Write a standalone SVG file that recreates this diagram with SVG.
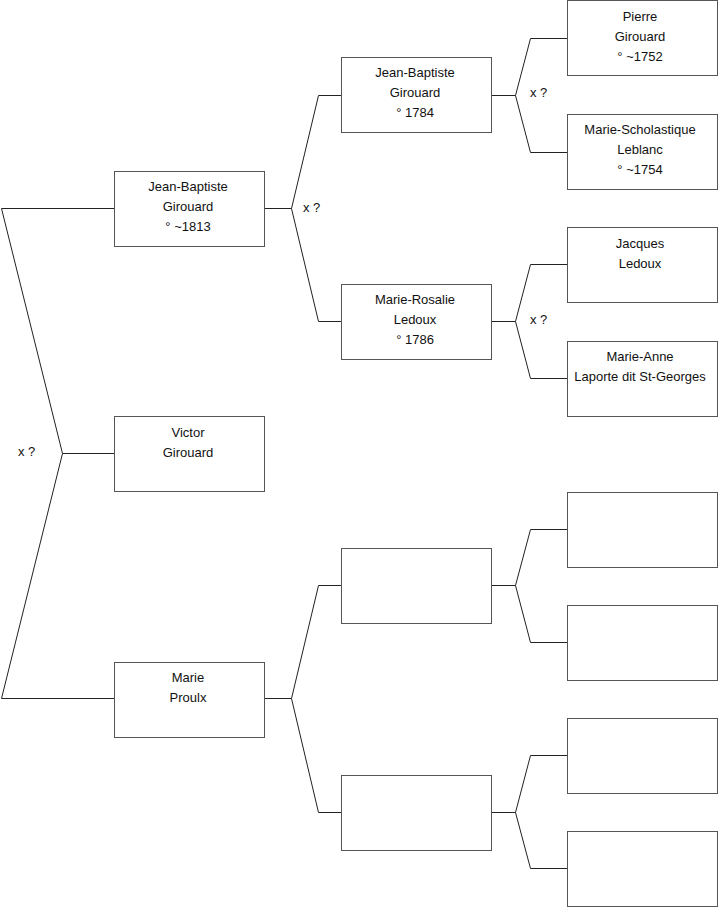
<svg xmlns="http://www.w3.org/2000/svg" width="719" height="908" viewBox="0 0 719 908">
<style>
.box{fill:#fff;stroke:#555;stroke-width:1}
.ln{fill:none;stroke:#222;stroke-width:1}
text{font-family:"Liberation Sans",Arial,sans-serif;font-size:13px;fill:#111;text-anchor:middle}
.x{text-anchor:start}
</style>
<rect width="719" height="908" fill="#fff"/>
<g id="connectors">
<polyline class="ln" points="114,208.5 1.5,208.5 62.5,453.5 1.5,698.5 114,698.5"/>
<line class="ln" x1="62.5" y1="453.5" x2="114" y2="453.5"/>
<polyline class="ln" points="341,95.5 318.5,95.5 291.5,208.5 318.5,321.5 341,321.5"/>
<line class="ln" x1="265" y1="208.5" x2="291.5" y2="208.5"/>
<polyline class="ln" points="341,585.5 318.5,585.5 291.5,698.5 318.5,812.5 341,812.5"/>
<line class="ln" x1="265" y1="698.5" x2="291.5" y2="698.5"/>
<polyline class="ln" points="567,38.5 530.5,38.5 515.5,95.5 530.5,152.5 567,152.5"/>
<line class="ln" x1="492" y1="95.5" x2="515.5" y2="95.5"/>
<polyline class="ln" points="567,264.5 530.5,264.5 515.5,321.5 530.5,378.5 567,378.5"/>
<line class="ln" x1="492" y1="321.5" x2="515.5" y2="321.5"/>
<polyline class="ln" points="567,529.5 530.5,529.5 515.5,585.5 530.5,642.5 567,642.5"/>
<line class="ln" x1="492" y1="585.5" x2="515.5" y2="585.5"/>
<polyline class="ln" points="567,755.5 530.5,755.5 515.5,812.5 530.5,868.5 567,868.5"/>
<line class="ln" x1="492" y1="812.5" x2="515.5" y2="812.5"/>
<text class="x" x="18" y="456">x ?</text>
<text class="x" x="303" y="212">x ?</text>
<text class="x" x="530" y="97">x ?</text>
<text class="x" x="530" y="324">x ?</text>
</g>
<g id="n-jb1813"><rect class="box" x="114.5" y="171.5" width="150" height="75"/><text x="188" y="191">Jean-Baptiste</text><text x="188" y="211">Girouard</text><text x="188" y="231">° ~1813</text></g>
<g id="n-victor"><rect class="box" x="114.5" y="416.5" width="150" height="75"/><text x="188" y="437">Victor</text><text x="188" y="457">Girouard</text></g>
<g id="n-marie"><rect class="box" x="114.5" y="662.5" width="150" height="75"/><text x="188" y="682">Marie</text><text x="188" y="702">Proulx</text></g>
<g id="n-jb1784"><rect class="box" x="341.5" y="57.5" width="150" height="75"/><text x="415" y="77">Jean-Baptiste</text><text x="415" y="97">Girouard</text><text x="415" y="117">° 1784</text></g>
<g id="n-mrosalie"><rect class="box" x="341.5" y="284.5" width="150" height="75"/><text x="415" y="304">Marie-Rosalie</text><text x="415" y="324">Ledoux</text><text x="415" y="344">° 1786</text></g>
<g id="n-e1"><rect class="box" x="341.5" y="548.5" width="150" height="75"/></g>
<g id="n-e2"><rect class="box" x="341.5" y="775.5" width="150" height="75"/></g>
<g id="n-pierre"><rect class="box" x="567.5" y="0.5" width="150" height="75"/><text x="640" y="21">Pierre</text><text x="640" y="41">Girouard</text><text x="640" y="61">° ~1752</text></g>
<g id="n-mscho"><rect class="box" x="567.5" y="114.5" width="150" height="75"/><text x="640" y="134">Marie-Scholastique</text><text x="640" y="154">Leblanc</text><text x="640" y="174">° ~1754</text></g>
<g id="n-jacques"><rect class="box" x="567.5" y="227.5" width="150" height="75"/><text x="640" y="248">Jacques</text><text x="640" y="268">Ledoux</text></g>
<g id="n-manne"><rect class="box" x="567.5" y="341.5" width="150" height="75"/><text x="640" y="361">Marie-Anne</text><text x="640" y="381">Laporte dit St-Georges</text></g>
<g id="n-e3"><rect class="box" x="567.5" y="492.5" width="150" height="75"/></g>
<g id="n-e4"><rect class="box" x="567.5" y="605.5" width="150" height="75"/></g>
<g id="n-e5"><rect class="box" x="567.5" y="718.5" width="150" height="75"/></g>
<g id="n-e6"><rect class="box" x="567.5" y="831.5" width="150" height="75"/></g>
</svg>
